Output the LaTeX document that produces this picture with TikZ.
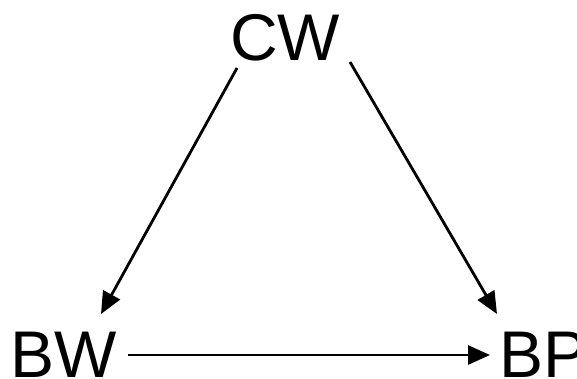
\documentclass[tikz,border=0pt]{standalone}
\usepackage{fontspec}
\setmainfont{Liberation Sans}
\usetikzlibrary{calc,arrows.meta}
\begin{document}
\begin{tikzpicture}[x=1pt,y=-1pt,
  lbl/.style={font=\fontsize{66}{70}\selectfont, inner sep=0pt, outer sep=0pt},
  arr/.style={line width=2.8pt, -{Triangle[length=22pt,width=19pt]}}]
\useasboundingbox (0,0) rectangle (577,379);
\node[lbl, anchor=base] (cw) at (285,61) {CW};
\node[lbl, anchor=base] (bw) at (64,377) {BW};
\node[lbl, anchor=base west] (bp) at (499,377) {BP};
\draw[arr] ($(cw.base)+(-48,7)$) -- ($(bw.base)+(37,-63)$);
\draw[arr] ($(cw.base)+(65,1)$) -- ($(bp.base west)+(-2,-63)$);
\draw[arr] ($(bw.base)+(64,-22)$) -- ($(bp.base west)+(-9,-22)$);
\end{tikzpicture}
\end{document}
